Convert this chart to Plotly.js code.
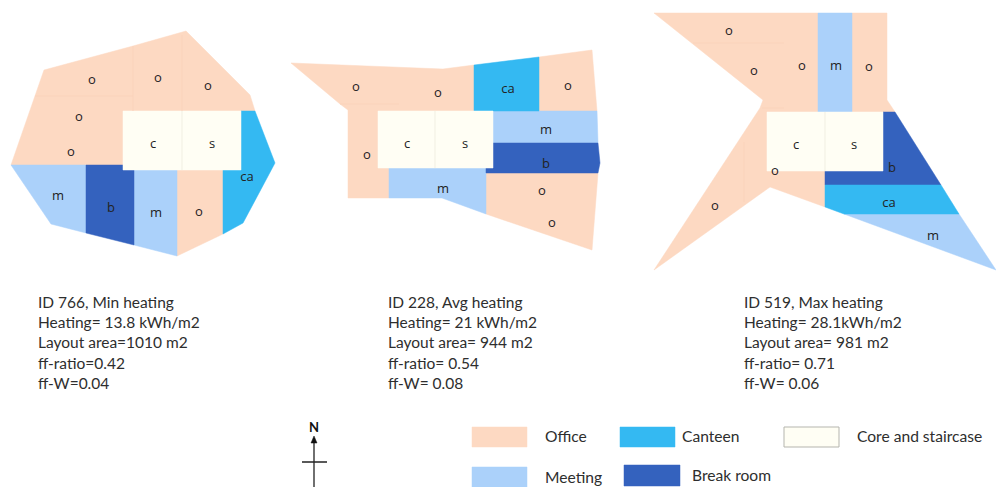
<!DOCTYPE html>
<html>
<head>
<meta charset="utf-8">
<script src="https://cdn.plot.ly/plotly-3.0.1.min.js"></script>
<style>html,body{margin:0;padding:0;background:#fff;overflow:hidden}#chart{width:996px;height:487px}</style>
</head>
<body>
<div id="chart"></div>
<script>
// Room outlines read from the floor plans: [x, y] vertices in picture coordinates
var officeRooms = [
  [[11,165],[35,95],[44,70],[133,46],[186,31],[250,95],[255,111],[123,111],[123,165]],
  [[177,170],[223,170],[223,234],[177,256]],
  [[291,63],[443,69],[474,65],[474,111],[378,111],[378,168],[389,168],[389,198],[348,198],[348,110],[340,104]],
  [[539,57],[592,50],[597,111],[539,111]],
  [[486,173],[598,173],[592,250],[486,214]],
  [[654,13],[818,13],[818,112],[767,112],[767,171],[825,171],[825,207],[770,187],[654,270],[760,108],[763,100]],
  [[852,13],[887,13],[887,100],[895,112],[852,112]]
];
var meetingRooms = [
  [[11,165],[86,165],[86,233],[51,224]],
  [[134,170],[177,170],[177,256],[134,245]],
  [[493,111],[597,111],[598,143],[493,143]],
  [[389,168],[486,168],[486,214],[442,198],[389,198]],
  [[818,13],[852,13],[852,112],[818,112]],
  [[844,214],[959,214],[996,270]]
];
var breakRooms = [
  [[86,165],[134,165],[134,245],[86,233]],
  [[493,143],[598,143],[600,163],[598,173],[486,173],[486,168],[493,168]],
  [[883,112],[895,112],[941,185],[825,185],[825,171],[883,171]]
];
var canteenRooms = [
  [[241,111],[255,111],[275,163],[243,223],[223,234],[223,170],[241,170]],
  [[474,65],[539,57],[539,111],[474,111]],
  [[825,185],[941,185],[959,214],[844,214],[825,207]]
];
var coreRooms = [
  [[123,111],[241,111],[241,170],[123,170]],
  [[378,111],[493,111],[493,168],[378,168]],
  [[767,112],[883,112],[883,171],[767,171]]
];
var officeDividers = [
  [[35,96],[133,96]], [[133,46],[133,111]], [[182,35],[182,111]],
  [[340,104],[399,104]],
  [[693,43],[784,43]], [[762,108],[784,108]], [[744,142],[744,202]]
];
var coreDividers = [
  [[182,111],[182,170]], [[435,111],[435,168]], [[825,112],[825,171]]
];

// Room letters
var roomLabels = ["o","o","o","o","o","c","s","m","b","m","o","ca",
                  "o","o","ca","o","c","s","o","m","b","m","o","o",
                  "o","o","o","m","o","c","s","b","ca","m","o","o"];
var roomLabelX = [92,158,208,79,71,153,212,58,111,156,199,247,
                  356,438,508,568,407,465,367,546,546,443,542,552,
                  729,754,802,836,869,796,854,892,889,933,775,715];
var roomLabelY = [81,79,87,118,153,145,145,197,209,214,213,178,
                  88,94,90,87,145,145,156,131,165,190,192,224,
                  32,72,67,67,68,146,146,169,204,237,172,207];

// Caption blocks
var captionLines = [
  "ID 766, Min heating","Heating= 13.8 kWh/m2","Layout area=1010 m2","ff-ratio=0.42","ff-W=0.04",
  "ID 228, Avg heating","Heating= 21 kWh/m2","Layout area= 944 m2","ff-ratio= 0.54","ff-W= 0.08",
  "ID 519, Max heating","Heating= 28.1kWh/m2","Layout area= 981 m2","ff-ratio= 0.71","ff-W= 0.06"
];
var captionX = [38,38,38,38,38, 388,388,388,388,388, 744,744,744,744,744];
var captionY = [304,324,344,365,385, 304,324,344,365,385, 304,324,344,365,385];

// Legend
var legendNames = ["Office","Canteen","Core and staircase","Meeting","Break room"];
var legendTextX = [545,682,857,545,692];
var legendTextY = [438,438,438,479,477];
var legendSwatches = [
  [[472,427],[527,427],[527,447],[472,447]],
  [[620,427],[675,427],[675,447],[620,447]],
  [[784,427],[839,427],[839,447],[784,447]],
  [[472,467],[527,467],[527,487],[472,487]],
  [[624,465],[680,465],[680,486],[624,486]]
];

// North arrow
var northShaft = [[314,442],[314,487]];
var northBar = [[302,462],[327,462]];
var northHead = [[314,436],[311,443],[317,443]];

var colors = {office:"#FDD9C2", meeting:"#ABD1FA", brk:"#3462BE", canteen:"#34B9F2", core:"#FFFEF4"};
var legendColors = [colors.office, colors.canteen, colors.core, colors.meeting, colors.brk];

function xs(p){return p.map(function(v){return v[0];});}
function ys(p){return p.map(function(v){return v[1];});}
function poly(p,color,lineColor,lineW){
  return {type:"scatter",mode:"lines",x:xs(p).concat(p[0][0]),y:ys(p).concat(p[0][1]),fill:"toself",
    fillcolor:color,line:{color:lineColor||color,width:lineW===undefined?0.5:lineW},hoverinfo:"skip",showlegend:false};
}
function seg(p,color,w){
  return {type:"scatter",mode:"lines",x:xs(p),y:ys(p),line:{color:color,width:w},hoverinfo:"skip",showlegend:false};
}
function texts(t,x,y,pos,font){
  return {type:"scatter",mode:"text",x:x,y:y,text:t,textposition:pos,textfont:font,hoverinfo:"skip",showlegend:false,cliponaxis:false};
}

var traces = [];
officeRooms.forEach(function(p){traces.push(poly(p,colors.office));});
meetingRooms.forEach(function(p){traces.push(poly(p,colors.meeting));});
breakRooms.forEach(function(p){traces.push(poly(p,colors.brk));});
canteenRooms.forEach(function(p){traces.push(poly(p,colors.canteen));});
coreRooms.forEach(function(p){traces.push(poly(p,colors.core));});
officeDividers.forEach(function(p){traces.push(seg(p,"#FAD3BB",1));});
coreDividers.forEach(function(p){traces.push(seg(p,"#F1EFE2",1));});
legendSwatches.forEach(function(p,i){
  traces.push(poly(p,legendColors[i], i===2?"#B5B5AE":legendColors[i], i===2?1:0.5));
});
traces.push(seg(northShaft,"#222",1.3));
traces.push(seg(northBar,"#222",1.5));
traces.push(poly(northHead,"#111","#111",0.5));
traces.push(texts(roomLabels,roomLabelX,roomLabelY,"middle center",{family:"Open Sans, sans-serif",size:13,color:"#222"}));
traces.push(texts(captionLines,captionX,captionY,"middle right",{family:"Lato, sans-serif",size:15.5,color:"#2e2e2e"}));
traces.push(texts(legendNames,legendTextX,legendTextY,"middle right",{family:"Lato, sans-serif",size:15.6,color:"#2e2e2e"}));
traces.push(texts(["N"],[314],[429],"middle center",{family:"Lato, sans-serif",size:13,weight:"bold",color:"#111"}));

var axisBase = {visible:false,fixedrange:true,showgrid:false,zeroline:false};
Plotly.newPlot("chart",traces,{
  width:996,height:487,margin:{l:0,r:0,t:0,b:0},
  paper_bgcolor:"#fff",plot_bgcolor:"#fff",showlegend:false,hovermode:false,
  xaxis:Object.assign({range:[0,996]},axisBase),
  yaxis:Object.assign({range:[487,0]},axisBase)
},{staticPlot:true,displayModeBar:false});
</script>
</body>
</html>
